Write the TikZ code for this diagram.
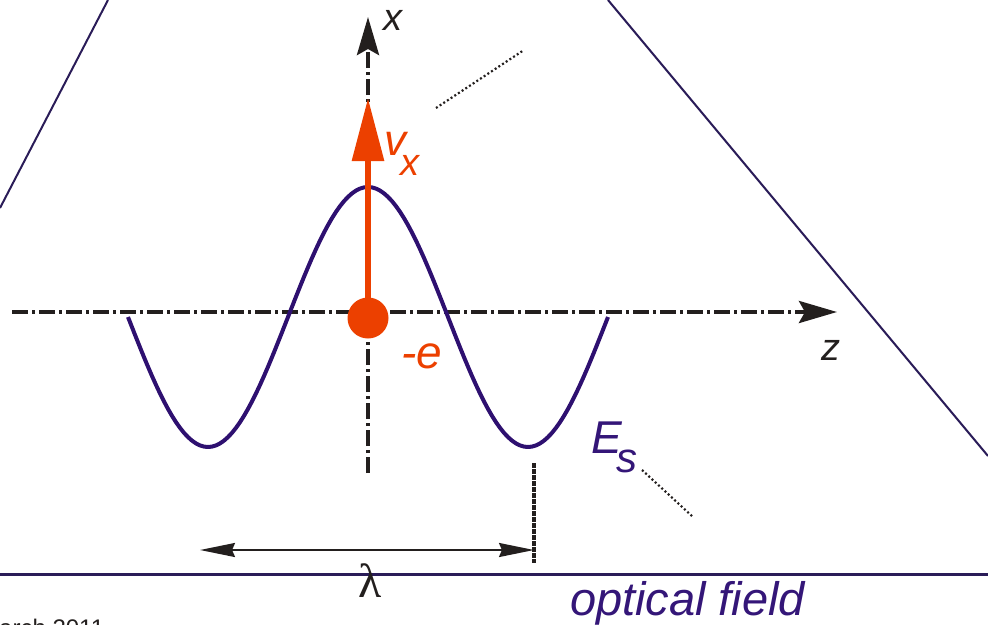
\documentclass[tikz,border=0pt]{standalone}
\usepackage{fontspec}
\setmainfont{Liberation Sans}
\newfontfamily\lamfont{Liberation Serif}
\usetikzlibrary{arrows.meta}
\definecolor{axisblk}{RGB}{35,31,30}
\definecolor{ered}{RGB}{236,64,0}
\definecolor{wavepurple}{RGB}{46,16,112}
\definecolor{framepurple}{RGB}{42,28,88}
\definecolor{labpurple}{RGB}{52,22,120}
\tikzset{
  axisline/.style={axisblk,line width=4pt,dash pattern=on 16pt off 4pt on 3pt off 4pt,
     -{Stealth[length=38pt,width=22pt,inset=6pt]}},
  frameline/.style={framepurple,line width=2pt},
  dotline/.style={axisblk,line width=2.2pt,dash pattern=on 2pt off 2.4pt},
  lab/.style={inner sep=0pt,outer sep=0pt,font=\itshape},
}
\begin{document}
\begin{tikzpicture}[x=1pt,y=-1pt]
\useasboundingbox (0,0) rectangle (988,624);
% frame lines
\coordinate (l1) at (0,208); \coordinate (l2) at (108,0);
\coordinate (r1) at (608,0); \coordinate (r2) at (988,456);
\coordinate (b1) at (0,574.5); \coordinate (b2) at (988,574.5);
\draw[frameline] (l1) -- (l2);
\draw[frameline] (r1) -- (r2);
\draw[frameline,line width=3pt] (b1) -- (b2);
% axes
\coordinate (zs) at (12,312); \coordinate (ze) at (837,312);
\coordinate (xs) at (368,473); \coordinate (xe) at (368,17);
\draw[axisline] (zs) -- (ze);
\draw[axisline] (xs) -- (xe);
\node[lab,anchor=base west,font=\itshape\fontsize{38}{40}\selectfont,text=axisblk] (xlab) at (383,30) {x};
\node[lab,anchor=base west,font=\itshape\fontsize{38}{40}\selectfont,text=axisblk] (zlab) at (821,360) {z};
% wave
\draw[wavepurple,line width=4pt,line join=round] plot[domain=-240:240,samples=121] ({368+\x},{317-130*cos(1.125*\x)});
% lambda marker
\coordinate (dt) at (534,463); \coordinate (db) at (534,563);
\draw[axisblk,line width=4pt,dash pattern=on 4.5pt off 1.5pt] (dt) -- (db);
\coordinate (la) at (200,550); \coordinate (lb) at (534,550);
\draw[axisblk,line width=2pt,{Stealth[length=35pt,width=14pt,inset=3pt]}-{Stealth[length=35pt,width=14pt,inset=3pt]}] (la) -- (lb);
\node[lab,anchor=base,font=\lamfont\fontsize{48}{50}\selectfont,text=axisblk] (lam) at (370,597) {λ};
% electron
\coordinate (ec) at (368,318); \coordinate (vtip) at (368,98);
\draw[ered,line width=6pt,-{Triangle[length=63pt,width=31pt]}] (ec) -- (vtip);
\node[circle,fill=ered,minimum size=41pt,inner sep=0pt] (dot) at (ec) {};
\node[lab,anchor=base west,font=\itshape\fontsize{44}{46}\selectfont,text=ered] (vlab) at (384,155) {v};
\node[lab,anchor=base west,font=\itshape\fontsize{38}{40}\selectfont,text=ered] (vsub) at (400,175) {x};
\node[lab,anchor=base west,font=\itshape\fontsize{46}{48}\selectfont,text=ered] (elab) at (401,368) {-e};
% field label
\node[lab,anchor=base west,font=\itshape\fontsize{46}{48}\selectfont,text=labpurple] (Elab) at (591,453) {E};
\node[lab,anchor=base west,font=\itshape\fontsize{42}{44}\selectfont,text=labpurple] (Esub) at (616,472) {s};
% dotted leaders
\coordinate (d1a) at (436,108); \coordinate (d1b) at (524,50);
\draw[dotline] (d1a) -- (d1b);
\coordinate (d2a) at (642,470); \coordinate (d2b) at (693,517);
\draw[dotline] (d2a) -- (d2b);
% texts
\node[lab,anchor=base west,font=\itshape\fontsize{47}{50}\selectfont,text=labpurple] (opt) at (570,615) {optical field};
\node[inner sep=0pt,anchor=base west,font=\fontsize{24}{26}\selectfont,text=axisblk] (date) at (-1,636) {arch 2011};
\end{tikzpicture}
\end{document}
